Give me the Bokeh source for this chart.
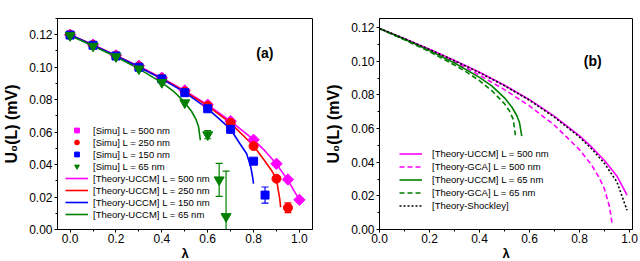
from bokeh.plotting import figure
from bokeh.layouts import row
from bokeh.models import (Range1d, SingleIntervalTicker, PrintfTickFormatter, Legend,
                          LegendItem, Whisker, TeeHead, ColumnDataSource, Label)
from bokeh.embed import file_html
from bokeh.resources import INLINE
import numpy as np

FONT = "Liberation Sans"
MAGENTA = "#FF00FF"
RED = "#FF0000"
BLUE = "#0000FF"
GREEN = "#008000"

# ---------------- Panel (a) data ----------------
lam_simu_500 = [0.0, 0.1, 0.2, 0.3, 0.4, 0.5, 0.6, 0.7, 0.8, 0.9, 0.95, 1.0]
u_simu_500 = [0.1200, 0.1139, 0.1073, 0.1009, 0.0935, 0.0857, 0.0769, 0.0668, 0.0553, 0.0405, 0.0308, 0.0183]

lam_simu_250 = [0.0, 0.1, 0.2, 0.3, 0.4, 0.5, 0.6, 0.7, 0.8, 0.9, 0.95]
u_simu_250 = [0.1200, 0.1137, 0.1071, 0.1004, 0.0930, 0.0850, 0.0762, 0.0657, 0.0514, 0.0313, 0.0134]

lam_simu_150 = [0.0, 0.1, 0.2, 0.3, 0.4, 0.5, 0.6, 0.7, 0.8, 0.85]
u_simu_150 = [0.1198, 0.1135, 0.1069, 0.1000, 0.0928, 0.0843, 0.0744, 0.0617, 0.0421, 0.0212]

lam_simu_65 = [0.0, 0.1, 0.2, 0.3, 0.4, 0.5, 0.6, 0.65, 0.68]
u_simu_65 = [0.1195, 0.1130, 0.1065, 0.0990, 0.0906, 0.0781, 0.0584, 0.0306, 0.0080]

err_lam = [0.95, 0.85, 0.6, 0.65, 0.68]
err_u = [0.0134, 0.0212, 0.0584, 0.0306, 0.0080]
err_d = [0.0030, 0.0050, 0.0025, 0.0102, 0.0280]
err_color = [RED, BLUE, GREEN, GREEN, GREEN]

th_lam_500 = [0.0, 0.1, 0.2, 0.3, 0.4, 0.5, 0.6, 0.7, 0.8, 0.85, 0.9, 0.95, 1.0]
th_u_500 = [0.1200, 0.1138, 0.1072, 0.1006, 0.0933, 0.0855, 0.0768, 0.0668, 0.0553, 0.0484, 0.0403, 0.0303, 0.0183]

th_lam_250 = [0.0, 0.1, 0.2, 0.3, 0.4, 0.5, 0.6, 0.7, 0.8, 0.85, 0.88, 0.9, 0.908, 0.914, 0.918]
th_u_250 = [0.1200, 0.1137, 0.1071, 0.1003, 0.0930, 0.0850, 0.0762, 0.0655, 0.0516, 0.0420, 0.0360, 0.0310, 0.0240, 0.0190, 0.0137]

th_lam_150 = [0.0, 0.1, 0.2, 0.3, 0.4, 0.5, 0.6, 0.7, 0.74, 0.77, 0.788, 0.796, 0.8]
th_u_150 = [0.1200, 0.1136, 0.1070, 0.1001, 0.0928, 0.0845, 0.0745, 0.0618, 0.0530, 0.0467, 0.0384, 0.0322, 0.0282]

th_lam_65 = [0.0, 0.1, 0.2, 0.3, 0.4, 0.45, 0.5, 0.53, 0.55, 0.56, 0.568]
th_u_65 = [0.1195, 0.1131, 0.1064, 0.0990, 0.0905, 0.0853, 0.0783, 0.0727, 0.0675, 0.0635, 0.0550]

# ---------------- Panel (b) data ----------------
b_lam_uccm500 = [0.0, 0.1, 0.2, 0.3, 0.4, 0.5, 0.6, 0.7, 0.8, 0.85, 0.9, 0.95, 0.99]
b_u_uccm500 = [0.1195, 0.1135, 0.1072, 0.1006, 0.0935, 0.0858, 0.0772, 0.0673, 0.0557, 0.0488, 0.0410, 0.0317, 0.0205]

b_lam_gca500 = [0.0, 0.1, 0.2, 0.3, 0.4, 0.5, 0.6, 0.7, 0.8, 0.85, 0.88, 0.9, 0.92, 0.93]
b_u_gca500 = [0.1195, 0.1133, 0.1068, 0.0998, 0.0918, 0.0832, 0.0735, 0.0620, 0.0475, 0.0380, 0.0305, 0.0240, 0.0135, 0.0040]

b_lam_uccm65 = [0.0, 0.1, 0.2, 0.3, 0.4, 0.45, 0.5, 0.53, 0.55, 0.56, 0.569]
b_u_uccm65 = [0.1195, 0.1131, 0.1064, 0.0990, 0.0905, 0.0853, 0.0783, 0.0727, 0.0675, 0.0635, 0.0555]

b_lam_gca65 = [0.0, 0.1, 0.2, 0.3, 0.35, 0.4, 0.45, 0.5, 0.52, 0.535, 0.545]
b_u_gca65 = [0.1195, 0.1128, 0.1058, 0.0978, 0.0935, 0.0885, 0.0825, 0.0748, 0.0705, 0.0655, 0.0545]

b_lam_shockley = [0.0, 0.1, 0.2, 0.3, 0.4, 0.5, 0.6, 0.7, 0.8, 0.85, 0.9, 0.95, 0.99]
b_u_shockley = [0.1195, 0.1135, 0.1071, 0.1004, 0.0933, 0.0855, 0.0769, 0.0668, 0.0550, 0.0478, 0.0393, 0.0282, 0.0115]

y_label = "U\u2080(L) (mV)"
x_label = "\u03bb"


def make_fig(xr, yr, fw, fh, bl, br):
    p = figure(output_backend="svg", toolbar_location=None,
               frame_width=fw, frame_height=fh,
               min_border_left=bl, min_border_right=br,
               min_border_top=18, min_border_bottom=32,
               x_range=Range1d(*xr), y_range=Range1d(*yr))
    p.xgrid.visible = False
    p.ygrid.visible = False
    p.outline_line_color = "black"
    p.outline_line_width = 1
    p.outline_line_alpha = 1
    p.background_fill_color = "white"
    p.border_fill_color = "white"
    p.xaxis.ticker = SingleIntervalTicker(interval=0.2, num_minor_ticks=2)
    p.yaxis.ticker = SingleIntervalTicker(interval=0.02, num_minor_ticks=2)
    p.xaxis.formatter = PrintfTickFormatter(format="%.1f")
    p.yaxis.formatter = PrintfTickFormatter(format="%.2f")
    for ax in (p.xaxis, p.yaxis):
        ax.axis_line_color = "black"
        ax.major_tick_line_color = "black"
        ax.minor_tick_line_color = "black"
        ax.major_tick_in = 0
        ax.major_tick_out = 3
        ax.minor_tick_in = 0
        ax.minor_tick_out = 2
        ax.major_label_text_font = FONT
        ax.major_label_text_font_size = "12px"
        ax.major_label_text_color = "black"
        ax.major_label_standoff = 2
        ax.axis_label_text_font = FONT
        ax.axis_label_text_font_style = "bold"
        ax.axis_label_text_color = "black"
    p.xaxis.axis_label_text_font_size = "13px"
    p.yaxis.axis_label_text_font_size = "16px"
    p.xaxis.major_label_standoff = 1
    p.xaxis.axis_label = x_label
    p.yaxis.axis_label = y_label
    p.xaxis.axis_label_standoff = 0
    p.yaxis.axis_label_standoff = 6
    return p


# ---------------- Panel (a) ----------------
pa = make_fig((-0.055, 1.057), (0.0, 0.13), 255, 211, 53, 10)

la500 = pa.line(th_lam_500, th_u_500, line_color=MAGENTA, line_width=1.6)
la250 = pa.line(th_lam_250, th_u_250, line_color=RED, line_width=1.6)
la150 = pa.line(th_lam_150, th_u_150, line_color=BLUE, line_width=1.6)
la65 = pa.line(th_lam_65, th_u_65, line_color=GREEN, line_width=1.6)

for xx, yy, dd, cc in zip(err_lam, err_u, err_d, err_color):
    src = ColumnDataSource(dict(x=[xx], up=[yy + dd], lo=[yy - dd]))
    w = Whisker(base="x", upper="up", lower="lo", source=src, dimension="height",
                line_color=cc, line_width=1.2,
                upper_head=TeeHead(size=7, line_color=cc, line_width=1.2),
                lower_head=TeeHead(size=7, line_color=cc, line_width=1.2))
    pa.add_layout(w)

ma500 = pa.scatter(lam_simu_500, u_simu_500, marker="square", angle=np.pi / 4, size=8,
                   fill_color=MAGENTA, line_color=MAGENTA)
ma250 = pa.scatter(lam_simu_250, u_simu_250, marker="circle", size=9,
                   fill_color=RED, line_color=RED)
ma150 = pa.scatter(lam_simu_150, u_simu_150, marker="square", size=8,
                   fill_color=BLUE, line_color=BLUE)
ma65 = pa.scatter(lam_simu_65, u_simu_65, marker="inverted_triangle", size=10,
                  fill_color=GREEN, line_color=GREEN)

leg_a = Legend(items=[
    LegendItem(label="[Simu] L = 500 nm", renderers=[ma500]),
    LegendItem(label="[Simu] L = 250 nm", renderers=[ma250]),
    LegendItem(label="[Simu] L = 150 nm", renderers=[ma150]),
    LegendItem(label="[Simu] L = 65 nm", renderers=[ma65]),
    LegendItem(label="[Theory-UCCM] L = 500 nm", renderers=[la500]),
    LegendItem(label="[Theory-UCCM] L = 250 nm", renderers=[la250]),
    LegendItem(label="[Theory-UCCM] L = 150 nm", renderers=[la150]),
    LegendItem(label="[Theory-UCCM] L = 65 nm", renderers=[la65]),
], location=(8, 9), padding=0, margin=0, spacing=0, glyph_width=23, glyph_height=12,
    label_height=12, label_standoff=5, border_line_color=None, background_fill_alpha=0,
    label_text_font=FONT, label_text_font_size="9.5px", label_text_color="black")
pa.add_layout(leg_a)

pa.add_layout(Label(x=0.849, y=0.1085, text="(a)", text_align="center", text_baseline="middle",
                    text_font=FONT, text_font_size="14px", text_font_style="bold",
                    text_color="black"))

# ---------------- Panel (b) ----------------
pb = make_fig((0.0, 1.012), (0.0, 0.1255), 253, 211, 53, 8)

lb1 = pb.line(b_lam_uccm500, b_u_uccm500, line_color=MAGENTA, line_width=1.6)
lb2 = pb.line(b_lam_gca500, b_u_gca500, line_color=MAGENTA, line_width=1.6, line_dash="5 3")
lb3 = pb.line(b_lam_uccm65, b_u_uccm65, line_color=GREEN, line_width=1.6)
lb4 = pb.line(b_lam_gca65, b_u_gca65, line_color=GREEN, line_width=1.6, line_dash="5 3")
lb5 = pb.line(b_lam_shockley, b_u_shockley, line_color="black", line_width=1.6, line_dash="2 2")

leg_b = Legend(items=[
    LegendItem(label="[Theory-UCCM] L = 500 nm", renderers=[lb1]),
    LegendItem(label="[Theory-GCA] L = 500 nm", renderers=[lb2]),
    LegendItem(label="[Theory-UCCM] L = 65 nm", renderers=[lb3]),
    LegendItem(label="[Theory-GCA] L = 65 nm", renderers=[lb4]),
    LegendItem(label="[Theory-Shockley]", renderers=[lb5]),
], location=(20, 17), padding=0, margin=0, spacing=0, glyph_width=23, glyph_height=13,
    label_height=13, label_standoff=10, border_line_color=None, background_fill_alpha=0,
    label_text_font=FONT, label_text_font_size="9.5px", label_text_color="black")
pb.add_layout(leg_b)

pb.add_layout(Label(x=0.853, y=0.1005, text="(b)", text_align="center", text_baseline="middle",
                    text_font=FONT, text_font_size="14px", text_font_style="bold",
                    text_color="black"))

layout = row(pa, pb)
open("out.html", "w").write(file_html(layout, INLINE))
